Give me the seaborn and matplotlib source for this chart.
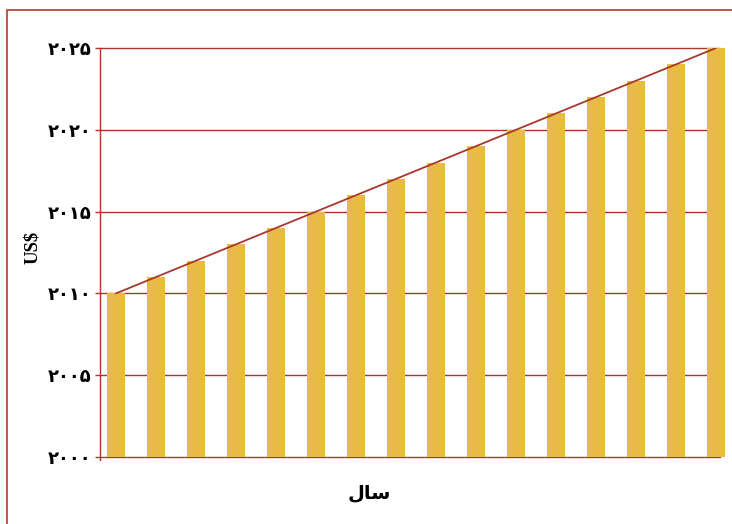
import matplotlib
matplotlib.use("Agg")
import matplotlib.pyplot as plt
import seaborn as sns
import numpy as np
import pandas as pd
from matplotlib.patches import Rectangle

years = [str(y) for y in range(2010, 2026)]
values = [2010, 2011, 2012, 2013, 2014, 2015, 2016, 2017, 2018, 2019,
          2020, 2021, 2022, 2023, 2024, 2025]
yticks = [2000, 2005, 2010, 2015, 2020, 2025]
ytick_labels = ["۲۰۰۰", "۲۰۰۵", "۲۰۱۰", "۲۰۱۵", "۲۰۲۰", "۲۰۲۵"]
xlabel = "سال"
ylabel = "US$"

BAR = "#e8bb45"
RED = "#a8382c"

sns.set_theme(style="white")
plt.rcParams['font.family'] = ['DejaVu Sans']

fig = plt.figure(figsize=(7.32, 5.24), dpi=100)
W, H = 732, 524
ax = fig.add_axes([100 / W, 1 - 457 / H, (726 - 100) / W, (457 - 48) / H])
ax.set_axisbelow(True)

for y in yticks:
    ax.axhline(y, xmin=0, xmax=(720 - 100) / (726 - 100), color=RED,
               lw=1, zorder=0.5, clip_on=False)

df = pd.DataFrame({"year": years, "value": values})
sns.barplot(data=df, x="year", y="value", color=BAR, saturation=1,
            width=0.46, ax=ax, linewidth=0)
for p in ax.patches:
    p.set_zorder(3)
sns.lineplot(x=np.arange(len(values)), y=values, color=RED, lw=1.3,
             ax=ax)
ax.lines[-1].set_zorder(4)

ax.set_ylim(2000, 2025)
ax.set_xlim(-0.4, len(values) - 1 + 10 / 40)

ax.set_yticks(yticks)
ax.set_yticklabels(ytick_labels, fontsize=13, fontweight="bold",
                   family=['DejaVu Sans'], color="black")
ax.set_xticks([])
ax.tick_params(axis="y", length=3.6, width=1, color=RED, pad=2.5, left=True)
ax.set_xlabel("")
ax.set_ylabel("")
for s in ["top", "right", "bottom"]:
    ax.spines[s].set_visible(False)
ax.spines["left"].set_color(RED)
ax.spines["left"].set_linewidth(1)
ax.spines["left"].set_bounds(1999.8, 2025)
ax.spines["left"].set_zorder(5)

fig.text(369 / W, 1 - 493 / H, "\uFEDD\uFE8E\uFEB3", ha="center", va="center",
         fontsize=14, fontweight="bold", family=['DejaVu Sans'], color="black")
fig.text(33 / W, 1 - 247 / H, ylabel, ha="center", va="center", rotation=90,
         fontsize=13.5, fontweight="bold", family=['Liberation Serif'],
         color="black")

fig.patches.append(Rectangle((6.5 / W, -0.05), 1.2, 1 - 9.5 / H + 0.05,
                             transform=fig.transFigure, fill=False,
                             edgecolor="#b83a2c", lw=1.2))

fig.savefig("out.png", dpi=100)
